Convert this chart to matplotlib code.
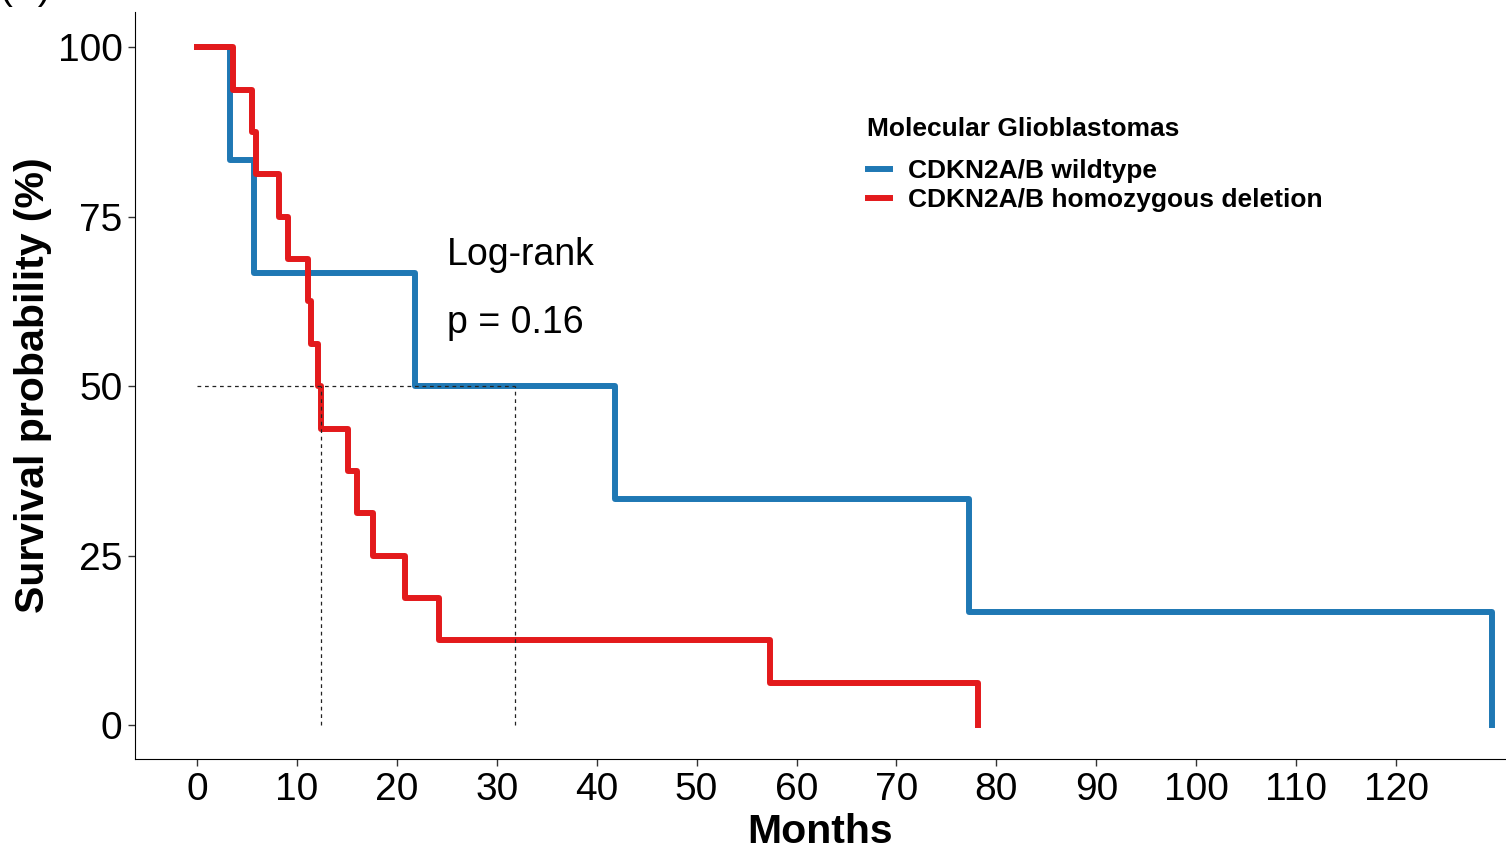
import matplotlib.pyplot as plt
from matplotlib.lines import Line2D

plt.rcParams["font.family"] = ["Liberation Sans", "DejaVu Sans"]

# Kaplan-Meier steps (months, survival %)
wt_time = [0, 3.3, 5.7, 21.8, 41.8, 77.3, 129.6]
wt_surv = [100, 83.3, 66.7, 50, 33.3, 16.7, 0]

del_time = [0, 3.6, 5.5, 5.9, 8.2, 9.1, 11.1, 11.4, 12.1, 12.4, 15.1, 16.0,
            17.6, 20.8, 24.2, 57.3, 78.2]
del_surv = [100, 93.75, 87.5, 81.25, 75, 68.75, 62.5, 56.25, 50, 43.75, 37.5,
            31.25, 25, 18.75, 12.5, 6.25, 0]

median_times = [12.4, 31.8]
group_labels = ["CDKN2A/B wildtype", "CDKN2A/B homozygous deletion"]
group_colors = ["#1F78B4", "#E31A1C"]
x_ticks = list(range(0, 121, 10))
y_ticks = [0, 25, 50, 75, 100]

fig = plt.figure(figsize=(15.06, 8.49), dpi=100)
ax = fig.add_axes([135 / 1506, 1 - 759 / 849, 1 - 135 / 1506, (759 - 12) / 849])

ax.step(wt_time, wt_surv, where="post", color=group_colors[0], lw=4.3)
ax.step(del_time, del_surv, where="post", color=group_colors[1], lw=4.3)

# median survival guides
ax.plot([0, max(median_times)], [50, 50], ls=(0, (3, 3)), color="#222222", lw=0.9)
for m in median_times:
    ax.plot([m, m], [0, 50], ls=(0, (3, 3)), color="#222222", lw=0.9)

ax.text(25, 69.4, "Log-rank", fontsize=27, va="center", ha="left")
ax.text(25, 59.3, "p = 0.16", fontsize=27, va="center", ha="left")

ax.set_xlim(-6.2, 131)
ax.set_ylim(-5, 105.2)
ax.set_xticks(x_ticks)
ax.set_yticks(y_ticks)
ax.tick_params(labelsize=28, length=5, width=1, color="#333333", pad=4)
ax.spines["top"].set_visible(False)
ax.spines["right"].set_visible(False)
ax.set_xlabel("Months", fontsize=29.5, fontweight="bold", labelpad=4)
ax.set_ylabel("Survival probability (%)", fontsize=29.5, fontweight="bold", labelpad=4)

# legend
ax.text(0.5339, 0.8434, "Molecular Glioblastomas", transform=ax.transAxes,
        fontsize=19, fontweight="bold", va="center", ha="left")
handles = [Line2D([], [], color=c, lw=4.3) for c in group_colors]
ax.legend(handles, group_labels, loc="upper left", bbox_to_anchor=(0.5346, 0.8032),
          frameon=False, prop={"weight": "bold", "size": 19},
          handlelength=0.85, handletextpad=0.68, labelspacing=0.2,
          borderaxespad=0, borderpad=0)

fig.text(0.0, 1.0 + 1 / 849, "(A)", fontsize=28, va="baseline", ha="left")

fig.savefig("out.png", dpi=100)
